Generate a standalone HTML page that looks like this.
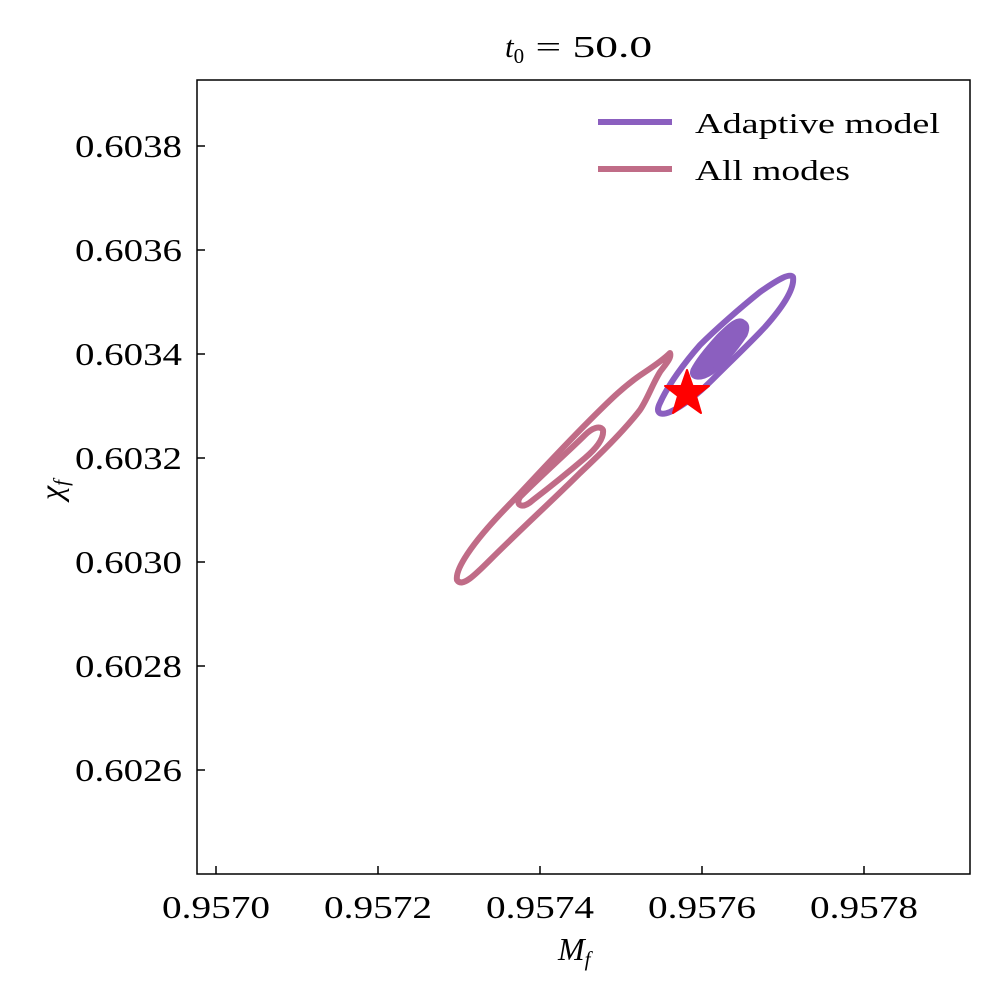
<!DOCTYPE html>
<html><head><meta charset="utf-8"><style>
body{margin:0;background:#fff}
text{font-family:"Liberation Serif",serif;fill:#000}
</style></head><body>
<svg width="1000" height="1000" xmlns="http://www.w3.org/2000/svg">
<rect width="1000" height="1000" fill="#fff"/>
<text x="505" y="57" font-size="31"><tspan font-style="italic">t</tspan><tspan font-size="21" dy="6">0</tspan><tspan dy="-6" textLength="128" lengthAdjust="spacingAndGlyphs"> = 50.0</tspan></text>
<g fill="none" stroke-linejoin="round" stroke-linecap="round" stroke-width="6">
<path stroke="#c06c87" d="M457,580 C455,570 470,545 507,507 C530,483 557,453 590,420 C610,400 625,385 645,372 C660,362 668,355 670,353 C672,358 665,365 660,372 C652,385 648,398 640,410 C630,423 610,445 580,473 C555,498 520,530 490,560 C475,575 462,588 457,580 Z"/>
<path stroke="#c06c87" d="M603,430 C600,425 592,428 585,435 C570,450 545,472 520,497 C515,505 522,510 533,500 C550,487 565,475 585,458 C598,447 604,438 603,430 Z"/>
<path stroke="#8b5fbf" d="M793,277 C790,273 780,278 760,292 C740,308 715,330 700,345 C685,362 668,385 660,403 C655,413 660,416 670,412 C685,405 700,392 712,380 C730,362 750,343 765,327 C780,310 795,290 793,277 Z"/>
<path stroke="#8b5fbf" fill="#8b5fbf" stroke-width="5" d="M743,322 C738,318 730,325 718,337 C708,348 698,360 693,370 C690,378 700,380 712,372 C725,362 735,350 745,335 C748,328 747,324 743,322 Z"/>
</g>
<polygon fill="#ff0000" stroke="#ff0000" stroke-width="2" stroke-linejoin="round" points="687,370 692.6,386 709,386 696,396 701,413 687,403 673,413 678,396 665,386 681.4,386"/>
<rect x="197" y="80" width="773" height="794" fill="none" stroke="#000" stroke-width="1.5"/>
<g stroke="#000" stroke-width="1.5">
<line x1="216" y1="874" x2="216" y2="866"/><line x1="378" y1="874" x2="378" y2="866"/><line x1="540" y1="874" x2="540" y2="866"/><line x1="702" y1="874" x2="702" y2="866"/><line x1="864" y1="874" x2="864" y2="866"/>
<line x1="197" y1="146" x2="205" y2="146"/><line x1="197" y1="250" x2="205" y2="250"/><line x1="197" y1="354" x2="205" y2="354"/><line x1="197" y1="458" x2="205" y2="458"/><line x1="197" y1="562" x2="205" y2="562"/><line x1="197" y1="666" x2="205" y2="666"/><line x1="197" y1="770" x2="205" y2="770"/>
</g>
<g font-size="32" lengthAdjust="spacingAndGlyphs">
<text x="162" y="918" textLength="108" lengthAdjust="spacingAndGlyphs">0.9570</text><text x="324" y="918" textLength="108" lengthAdjust="spacingAndGlyphs">0.9572</text><text x="486" y="918" textLength="108" lengthAdjust="spacingAndGlyphs">0.9574</text><text x="648" y="918" textLength="108" lengthAdjust="spacingAndGlyphs">0.9576</text><text x="810" y="918" textLength="108" lengthAdjust="spacingAndGlyphs">0.9578</text>
<text x="75" y="157" textLength="107" lengthAdjust="spacingAndGlyphs">0.6038</text><text x="75" y="261" textLength="107" lengthAdjust="spacingAndGlyphs">0.6036</text><text x="75" y="365" textLength="107" lengthAdjust="spacingAndGlyphs">0.6034</text><text x="75" y="469" textLength="107" lengthAdjust="spacingAndGlyphs">0.6032</text><text x="75" y="573" textLength="107" lengthAdjust="spacingAndGlyphs">0.6030</text><text x="75" y="677" textLength="107" lengthAdjust="spacingAndGlyphs">0.6028</text><text x="75" y="781" textLength="107" lengthAdjust="spacingAndGlyphs">0.6026</text>
</g>
<text x="558" y="960" font-size="32"><tspan font-style="italic">M</tspan><tspan font-style="italic" font-size="21" dy="6">f</tspan></text>
<text transform="translate(62,500) rotate(-90)" font-size="32"><tspan font-style="italic">χ</tspan><tspan font-style="italic" font-size="21" dy="6">f</tspan></text>
<line x1="598" y1="122" x2="672" y2="122" stroke="#8b5fbf" stroke-width="6"/>
<line x1="598" y1="169" x2="672" y2="169" stroke="#c06c87" stroke-width="6"/>
<text x="695" y="133" font-size="29" textLength="245" lengthAdjust="spacingAndGlyphs">Adaptive model</text>
<text x="695" y="180" font-size="29" textLength="155" lengthAdjust="spacingAndGlyphs">All modes</text>
</svg>
</body></html>
